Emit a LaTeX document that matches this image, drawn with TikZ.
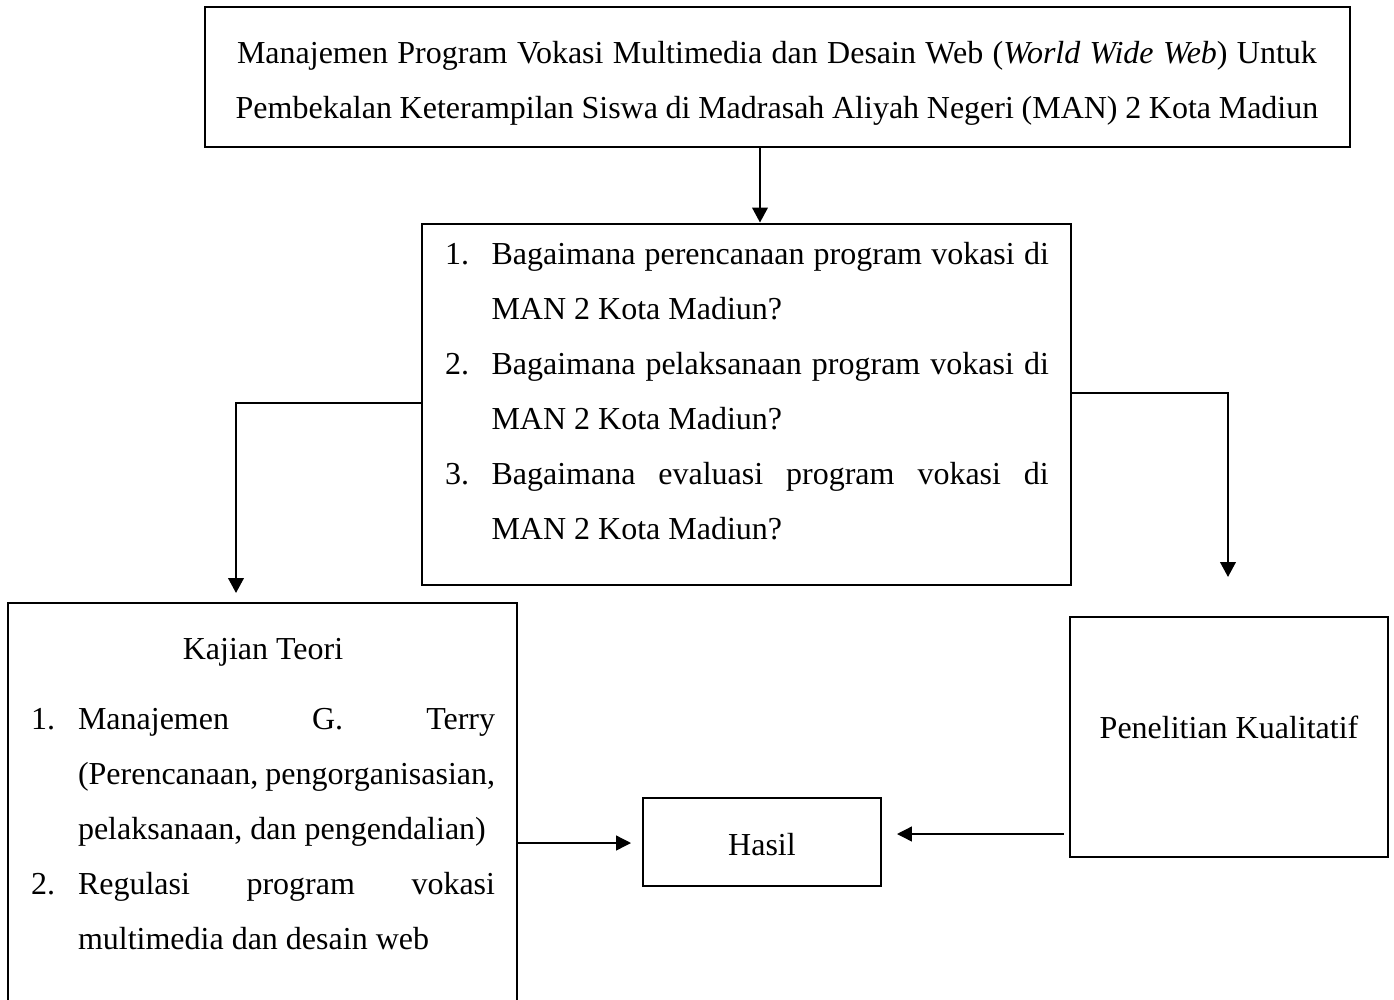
\documentclass[tikz,border=0pt]{standalone}
\usepackage{fontspec}
\setmainfont{Liberation Serif}
\usetikzlibrary{fit,arrows.meta}
\begin{document}
\begin{tikzpicture}[x=0.375pt,y=-0.375pt,
  box/.style={draw=black,line width=1.1pt,inner sep=0pt},
  txt/.style={inner sep=0pt,outer sep=0pt,font=\fontsize{12pt}{14pt}\selectfont},
  conn/.style={draw=black,line width=0.85pt,-{Triangle[length=5.6pt,width=5.8pt]}},
  thin/.style={draw=black,line width=0.5pt,-{Triangle[length=5.6pt,width=5.6pt]}}]
\useasboundingbox (0,0) rectangle (1394,1000);
% boxes
\node[box,fit={(205,7) (1350,147)}] (top) {};
\node[box,fit={(422,224) (1071,585)}] (q) {};
\node[box,fit={(8,603) (517,1012)}] (kaj) {};
\node[box,fit={(643,798) (881,886)}] (hasil) {};
\node[box,fit={(1070,617) (1388,857)}] (pen) {};
% top text
\node[txt,anchor=base] (t1) at (777,63) {\makebox[405pt][s]{Manajemen Program Vokasi Multimedia dan Desain Web (\textit{World Wide Web}) Untuk}};
\node[txt,anchor=base] (t2) at (777,118) {\makebox[406pt][s]{Pembekalan Keterampilan Siswa di Madrasah Aliyah Negeri (MAN) 2 Kota Madiun}};
% question box text
\node[txt,anchor=base west] (qn1) at (445,264) {1.};
\node[txt,anchor=base west] (qa1) at (491.5,264) {\makebox[209pt][s]{Bagaimana perencanaan program vokasi di}};
\node[txt,anchor=base west] (qb1) at (491.5,319) {MAN 2 Kota Madiun?};
\node[txt,anchor=base west] (qn2) at (445,374) {2.};
\node[txt,anchor=base west] (qa2) at (491.5,374) {\makebox[209pt][s]{Bagaimana pelaksanaan program vokasi di}};
\node[txt,anchor=base west] (qb2) at (491.5,429) {MAN 2 Kota Madiun?};
\node[txt,anchor=base west] (qn3) at (445,484) {3.};
\node[txt,anchor=base west] (qa3) at (491.5,484) {\makebox[209pt][s]{Bagaimana evaluasi program vokasi di}};
\node[txt,anchor=base west] (qb3) at (491.5,539) {MAN 2 Kota Madiun?};
% kajian text
\node[txt,anchor=base] (kt) at (263,659) {Kajian Teori};
\node[txt,anchor=base west] (kn1) at (31,729) {1.};
\node[txt,anchor=base west] (ka1) at (78,729) {\makebox[156.4pt][s]{Manajemen G. Terry}};
\node[txt,anchor=base west] (kb1) at (78,784) {\makebox[156.4pt][s]{(Perencanaan, pengorganisasian,}};
\node[txt,anchor=base west] (kc1) at (78,839) {pelaksanaan, dan pengendalian)};
\node[txt,anchor=base west] (kn2) at (31,894) {2.};
\node[txt,anchor=base west] (ka2) at (78,894) {\makebox[156.4pt][s]{Regulasi program vokasi}};
\node[txt,anchor=base west] (kb2) at (78,949) {multimedia dan desain web};
% other text
\node[txt,anchor=base] (ht) at (762,855) {Hasil};
\node[txt,anchor=base] (pt) at (1229,738) {Penelitian Kualitatif};
% connector coordinates
\coordinate (c1) at (760,0);
\coordinate (lt) at (236,593);
\coordinate (rt) at (1228,577);
\coordinate (ha) at (631,843);
\coordinate (hs) at (1064,834);
\coordinate (hb) at (897,834);
% connectors
\draw[conn] (top.south -| c1) -- (q.north -| c1);
\draw[conn] (q.west |- 0,403) -| (lt);
\draw[conn] (q.east |- 0,393) -| (rt);
\draw[thin] (kaj.east |- ha) -- (ha);
\draw[thin] (hs) -- (hb);
\end{tikzpicture}
\end{document}
